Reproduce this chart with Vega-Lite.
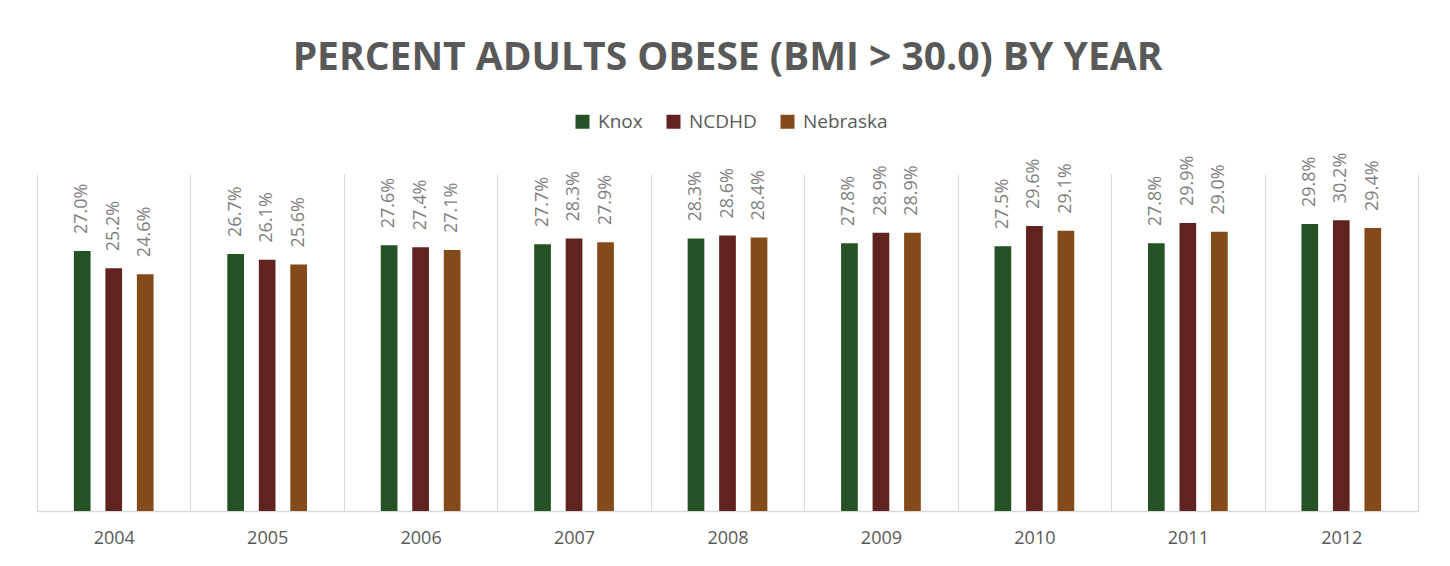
{
  "$schema": "https://vega.github.io/schema/vega-lite/v6.json",
  "width": 1381,
  "height": 337,
  "autosize": "none",
  "padding": {"left": 37, "top": 174, "right": 32, "bottom": 55},
  "background": "white",
  "title": {
    "text": "PERCENT ADULTS OBESE (BMI > 30.0) BY YEAR",
    "font": "Open Sans",
    "fontSize": 39,
    "fontWeight": "bold",
    "color": "#595959",
    "anchor": "middle",
    "frame": "group",
    "offset": 34
  },
  "data": {
    "values": [
      {"year": "2004", "region": "Knox", "value": 0.270},
      {"year": "2004", "region": "NCDHD", "value": 0.252},
      {"year": "2004", "region": "Nebraska", "value": 0.246},
      {"year": "2005", "region": "Knox", "value": 0.267},
      {"year": "2005", "region": "NCDHD", "value": 0.261},
      {"year": "2005", "region": "Nebraska", "value": 0.256},
      {"year": "2006", "region": "Knox", "value": 0.276},
      {"year": "2006", "region": "NCDHD", "value": 0.274},
      {"year": "2006", "region": "Nebraska", "value": 0.271},
      {"year": "2007", "region": "Knox", "value": 0.277},
      {"year": "2007", "region": "NCDHD", "value": 0.283},
      {"year": "2007", "region": "Nebraska", "value": 0.279},
      {"year": "2008", "region": "Knox", "value": 0.283},
      {"year": "2008", "region": "NCDHD", "value": 0.286},
      {"year": "2008", "region": "Nebraska", "value": 0.284},
      {"year": "2009", "region": "Knox", "value": 0.278},
      {"year": "2009", "region": "NCDHD", "value": 0.289},
      {"year": "2009", "region": "Nebraska", "value": 0.289},
      {"year": "2010", "region": "Knox", "value": 0.275},
      {"year": "2010", "region": "NCDHD", "value": 0.296},
      {"year": "2010", "region": "Nebraska", "value": 0.291},
      {"year": "2011", "region": "Knox", "value": 0.278},
      {"year": "2011", "region": "NCDHD", "value": 0.299},
      {"year": "2011", "region": "Nebraska", "value": 0.290},
      {"year": "2012", "region": "Knox", "value": 0.298},
      {"year": "2012", "region": "NCDHD", "value": 0.302},
      {"year": "2012", "region": "Nebraska", "value": 0.294}
    ]
  },
  "encoding": {
    "x": {
      "field": "year",
      "type": "nominal",
      "title": null,
      "scale": {"paddingInner": 0, "paddingOuter": 0},
      "axis": {
        "grid": true,
        "gridColor": "#d9d9d9",
        "gridWidth": 1,
        "tickBand": "extent",
        "ticks": false,
        "domainColor": "#d9d9d9",
        "domainWidth": 1.3,
        "labelAngle": 0,
        "labelFont": "Open Sans",
        "labelFontSize": 18,
        "labelColor": "#595959",
        "labelPadding": 18
      }
    },
    "xOffset": {
      "field": "region",
      "type": "nominal",
      "scale": {"domain": ["gap-left", "Knox", "NCDHD", "Nebraska", "gap-right"], "paddingInner": 0.47, "paddingOuter": 0.17}
    },
    "y": {
      "field": "value",
      "type": "quantitative",
      "scale": {"domain": [0, 0.35]},
      "axis": null
    }
  },
  "layer": [
    {
      "mark": {"type": "bar"},
      "encoding": {
        "color": {
          "field": "region",
          "type": "nominal",
          "scale": {"domain": ["Knox", "NCDHD", "Nebraska"], "range": ["#245224", "#602320", "#834a1a"]},
          "legend": {
            "title": null,
            "orient": "none",
            "direction": "horizontal",
            "legendX": 536,
            "legendY": -62,
            "symbolType": "square",
            "symbolSize": 196,
            "symbolStrokeWidth": 0,
            "symbolOpacity": 1,
            "labelFont": "Open Sans",
            "labelFontSize": 19,
            "labelColor": "#595959",
            "labelOffset": 6,
            "columnPadding": 21
          }
        }
      }
    },
    {
      "mark": {
        "type": "text",
        "angle": -90,
        "align": "left",
        "baseline": "middle",
        "dx": 17,
        "font": "Open Sans",
        "fontSize": 18,
        "color": "#7f7f7f"
      },
      "encoding": {
        "text": {"field": "value", "type": "quantitative", "format": ".1%"}
      }
    }
  ],
  "config": {
    "view": {"stroke": null}
  }
}
